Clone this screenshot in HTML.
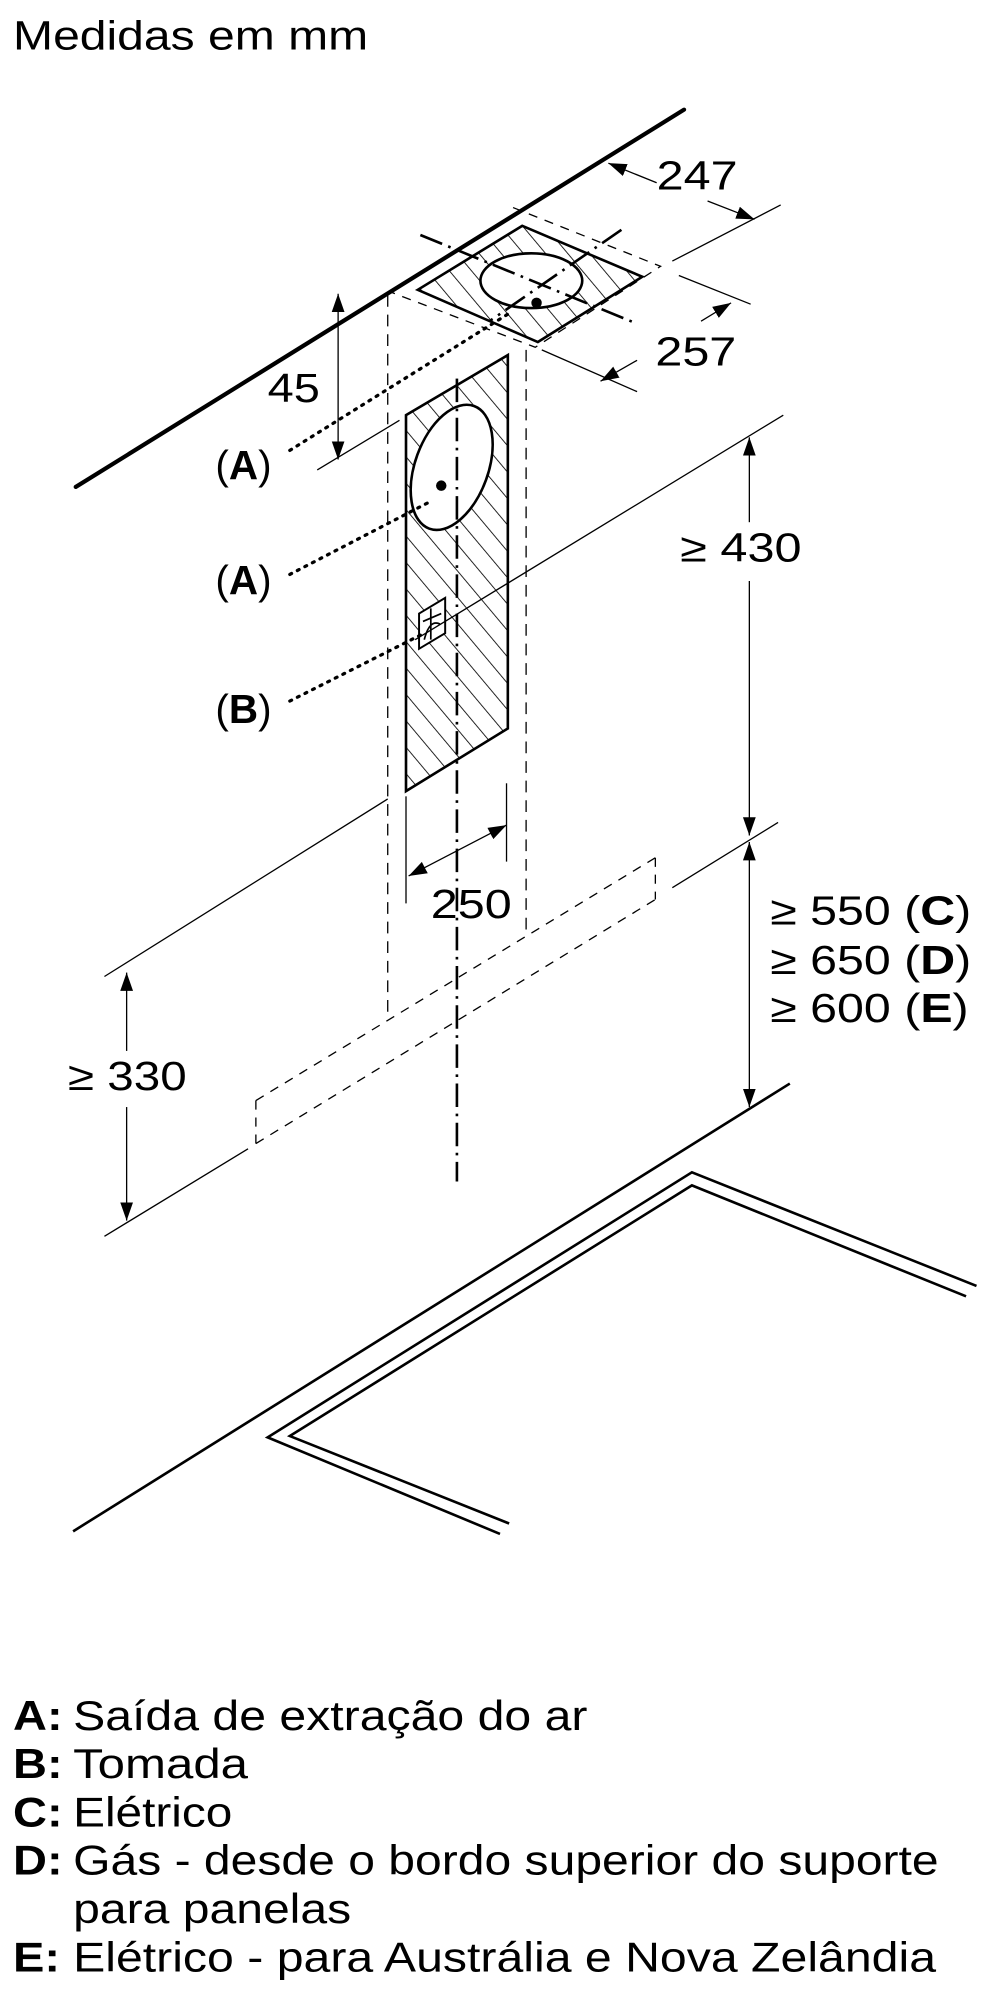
<!DOCTYPE html>
<html><head><meta charset="utf-8"><style>
html,body{margin:0;padding:0;background:#fff;}
svg{display:block;}
text{font-family:"Liberation Sans",sans-serif;fill:#000;}
</style></head><body>
<svg width="1000" height="2000" viewBox="0 0 766 1532" xmlns="http://www.w3.org/2000/svg">
<defs>
<pattern id="h" patternUnits="userSpaceOnUse" width="13" height="13" patternTransform="rotate(-40)">
<line x1="0" y1="0" x2="0" y2="13" stroke="#000" stroke-width="1.3"/>
</pattern>
<marker id="ar" viewBox="0 0 10 10" refX="10" refY="5" markerWidth="14" markerHeight="14" markerUnits="userSpaceOnUse" orient="auto-start-reverse">
<path d="M0,1.5 L10,5 L0,8.5 z" fill="#000"/>
</marker>
</defs>
<text x="10" y="38" font-size="31" textLength="272" lengthAdjust="spacingAndGlyphs">Medidas em mm</text>

<line x1="58" y1="373" x2="524" y2="84" stroke="#000" stroke-width="3.2" stroke-linecap="round"/>

<g stroke="#000" fill="none">
<polygon points="320,222 400,173 492,212 412,262" fill="url(#h)" stroke-width="2"/>
<ellipse cx="407" cy="215" rx="39" ry="21" fill="#fff" stroke-width="2"/>
<circle cx="411" cy="232" r="4" fill="#000" stroke="none"/>
<polyline points="393,159 506,204 410,266 300,224" stroke-dasharray="7,6" stroke-width="1"/>
<line x1="322" y1="180" x2="488" y2="248" stroke-dasharray="18,5,2,5" stroke-width="2"/>
<line x1="476" y1="176" x2="375" y2="246" stroke-dasharray="18,5,2,5" stroke-width="2"/>
<line x1="297" y1="226" x2="297" y2="780" stroke-dasharray="9,6" stroke-width="1"/>
<line x1="403" y1="268" x2="403" y2="718" stroke-dasharray="9,6" stroke-width="1"/>
<polygon points="311,318 389,272 389,558 311,606" fill="url(#h)" stroke-width="2"/>
<ellipse cx="346" cy="358" rx="28" ry="50" transform="rotate(20 346 358)" fill="#fff" stroke-width="2"/>
<circle cx="338" cy="372" r="4" fill="#000" stroke="none"/>
<polygon points="321,470 341,458 341,485 321,497" fill="#fff" stroke-width="1.5"/>
<path d="M325,490 Q329,474 337,478 M330,466 L330,490 M324,476 L338,470" stroke-width="1.3"/>
<line x1="350" y1="290" x2="350" y2="905" stroke-dasharray="18,5,2,5" stroke-width="2"/>
<g stroke-dasharray="1.5,5" stroke-width="2.5" stroke-linecap="round">
<line x1="222" y1="345" x2="390" y2="240"/>
<line x1="222" y1="440" x2="328" y2="385"/>
<line x1="222" y1="537" x2="325" y2="485"/>
</g>
<g stroke-width="1">
<line x1="243" y1="360" x2="306" y2="322"/>
<line x1="259" y1="225" x2="259" y2="352" marker-start="url(#ar)" marker-end="url(#ar)"/>
<line x1="515" y1="200" x2="598" y2="157"/>
<line x1="466" y1="125" x2="503" y2="140" marker-start="url(#ar)"/>
<line x1="542" y1="154" x2="578" y2="168" marker-end="url(#ar)"/>
<line x1="520" y1="211" x2="575" y2="233"/>
<line x1="415" y1="268" x2="488" y2="300"/>
<line x1="560" y1="232" x2="537" y2="246" marker-start="url(#ar)"/>
<line x1="488" y1="276" x2="460" y2="292" marker-end="url(#ar)"/>
<line x1="600" y1="318" x2="318" y2="490"/>
<line x1="574" y1="335" x2="574" y2="400" marker-start="url(#ar)"/>
<line x1="574" y1="445" x2="574" y2="640" marker-end="url(#ar)"/>
<line x1="596" y1="630" x2="515" y2="680"/>
<line x1="574" y1="645" x2="574" y2="848" marker-start="url(#ar)" marker-end="url(#ar)"/>
<line x1="297" y1="612" x2="80" y2="748"/>
<line x1="97" y1="745" x2="97" y2="805" marker-start="url(#ar)"/>
<line x1="97" y1="848" x2="97" y2="935" marker-end="url(#ar)"/>
<line x1="80" y1="947" x2="190" y2="880"/>
<line x1="311" y1="610" x2="311" y2="692"/>
<line x1="388" y1="600" x2="388" y2="660"/>
<line x1="313" y1="671" x2="388" y2="632" marker-start="url(#ar)" marker-end="url(#ar)"/>
</g>
<g stroke-dasharray="7,6" stroke-width="1">
<line x1="196" y1="843" x2="502" y2="657"/>
<line x1="196" y1="876" x2="502" y2="689"/>
<line x1="196" y1="843" x2="196" y2="876"/>
<line x1="502" y1="657" x2="502" y2="689"/>
</g>
<line x1="56" y1="1173" x2="605" y2="830" stroke-width="2"/>
<polyline points="748,985 530,898 205,1101 383,1175" stroke-width="2"/>
<polyline points="740,993 530,908 222,1100 390,1167" stroke-width="2"/>
</g>

<g font-size="31">
<text x="205" y="308" textLength="40" lengthAdjust="spacingAndGlyphs">45</text>
<text x="503" y="145" textLength="62" lengthAdjust="spacingAndGlyphs">247</text>
<text x="502" y="280" textLength="62" lengthAdjust="spacingAndGlyphs">257</text>
<text x="521" y="430" textLength="93" lengthAdjust="spacingAndGlyphs">≥ 430</text>
<text x="330" y="703" textLength="62" lengthAdjust="spacingAndGlyphs">250</text>
<text x="52" y="835" textLength="91" lengthAdjust="spacingAndGlyphs">≥ 330</text>
<text x="590" y="708" textLength="154" lengthAdjust="spacingAndGlyphs">≥ 550 (<tspan font-weight="bold">C</tspan>)</text>
<text x="590" y="746" textLength="154" lengthAdjust="spacingAndGlyphs">≥ 650 (<tspan font-weight="bold">D</tspan>)</text>
<text x="590" y="783" textLength="152" lengthAdjust="spacingAndGlyphs">≥ 600 (<tspan font-weight="bold">E</tspan>)</text>
<text x="165" y="367">(<tspan font-weight="bold">A</tspan>)</text>
<text x="165" y="455">(<tspan font-weight="bold">A</tspan>)</text>
<text x="165" y="554">(<tspan font-weight="bold">B</tspan>)</text>
</g>

<g font-size="32">
<text x="10" y="1325" font-weight="bold" textLength="38" lengthAdjust="spacingAndGlyphs">A:</text>
<text x="56" y="1325" textLength="394" lengthAdjust="spacingAndGlyphs">Saída de extração do ar</text>
<text x="10" y="1362" font-weight="bold" textLength="38" lengthAdjust="spacingAndGlyphs">B:</text>
<text x="56" y="1362" textLength="134" lengthAdjust="spacingAndGlyphs">Tomada</text>
<text x="10" y="1399" font-weight="bold" textLength="38" lengthAdjust="spacingAndGlyphs">C:</text>
<text x="56" y="1399" textLength="122" lengthAdjust="spacingAndGlyphs">Elétrico</text>
<text x="10" y="1436" font-weight="bold" textLength="38" lengthAdjust="spacingAndGlyphs">D:</text>
<text x="56" y="1436" textLength="663" lengthAdjust="spacingAndGlyphs">Gás - desde o bordo superior do suporte</text>
<text x="56" y="1473" textLength="213" lengthAdjust="spacingAndGlyphs">para panelas</text>
<text x="10" y="1510" font-weight="bold" textLength="36" lengthAdjust="spacingAndGlyphs">E:</text>
<text x="56" y="1510" textLength="661" lengthAdjust="spacingAndGlyphs">Elétrico - para Austrália e Nova Zelândia</text>
</g>
</svg>
</body></html>
